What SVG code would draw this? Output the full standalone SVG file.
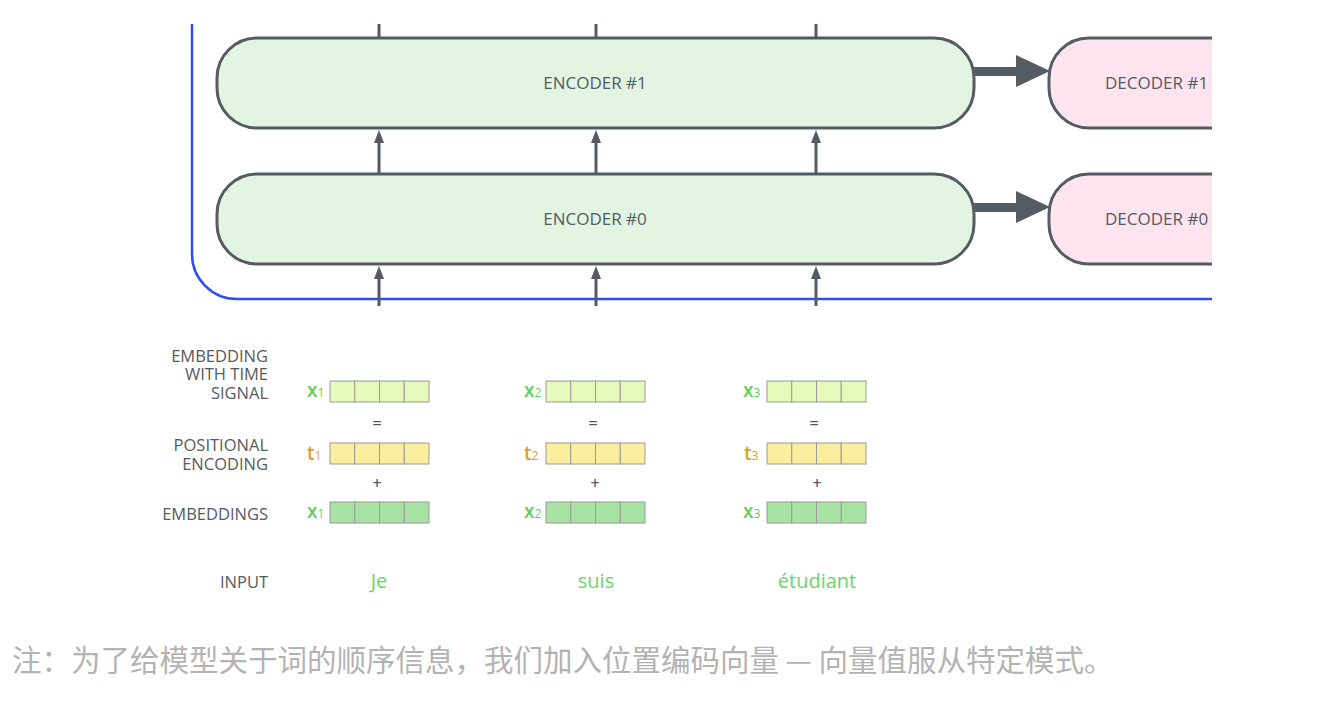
<svg xmlns="http://www.w3.org/2000/svg" width="1336" height="714" viewBox="0 0 1336 714">
<style>
.enc{fill:#e2f5e3;stroke:#555b62;stroke-width:3}
.dec{fill:#fde4ee;stroke:#555b62;stroke-width:3}
.lbl{font-family:"Open Sans","Liberation Sans",sans-serif;font-size:17px;font-weight:500;fill:#555b62}
.side{font-family:"Open Sans","Liberation Sans",sans-serif;font-size:16.5px;font-weight:500;fill:#555b62;text-anchor:end}
.op{font-family:"Open Sans","Liberation Sans",sans-serif;font-size:16px;font-weight:600;fill:#555b62;text-anchor:middle}
.word{font-family:"Open Sans","Liberation Sans",sans-serif;font-size:20px;fill:#6bd468;text-anchor:middle}
.xv{font-family:"Open Sans","Liberation Sans",sans-serif;font-size:19px;font-weight:600;fill:#62cf5c}
.tv{font-family:"Open Sans","Liberation Sans",sans-serif;font-size:19px;font-weight:600;fill:#d6a32c}
.sub{font-size:12px;font-weight:normal}
.cell{stroke:#9a9a9a;stroke-width:1}
.c1{fill:#e5f9bb}.c2{fill:#fcee9f}.c3{fill:#a7e3a3}
.ln{stroke:#555b62;stroke-width:3;fill:none}
.ah{fill:#555b62}
.cap{font-family:"Noto Sans CJK SC","Noto Sans",sans-serif;font-size:29.5px;fill:#b3b3b3}
</style>
<defs>
<clipPath id="clip"><rect x="0" y="0" width="1212" height="714"/></clipPath>
<g id="vec">
<rect class="cell" x="0" y="0" width="24.75" height="21"/>
<rect class="cell" x="24.75" y="0" width="24.75" height="21"/>
<rect class="cell" x="49.5" y="0" width="24.75" height="21"/>
<rect class="cell" x="74.25" y="0" width="24.75" height="21"/>
</g>
</defs>

<g id="container" clip-path="url(#clip)">
<path d="M192,24 V254 A45,45 0 0 0 237,299 H1240" fill="none" stroke="#2d4ef5" stroke-width="2.5"/>
</g>

<g id="connectors" clip-path="url(#clip)">
<line class="ln" x1="379" y1="24" x2="379" y2="38"/>
<line class="ln" x1="596" y1="24" x2="596" y2="38"/>
<line class="ln" x1="816" y1="24" x2="816" y2="38"/>
<line class="ln" x1="379" y1="174" x2="379" y2="142"/>
<polygon class="ah" points="379,130 374,143 384,143"/>
<line class="ln" x1="596" y1="174" x2="596" y2="142"/>
<polygon class="ah" points="596,130 591,143 601,143"/>
<line class="ln" x1="816" y1="174" x2="816" y2="142"/>
<polygon class="ah" points="816,130 811,143 821,143"/>
<line class="ln" x1="379" y1="306" x2="379" y2="278"/>
<polygon class="ah" points="379,266 374,279 384,279"/>
<line class="ln" x1="596" y1="306" x2="596" y2="278"/>
<polygon class="ah" points="596,266 591,279 601,279"/>
<line class="ln" x1="816" y1="306" x2="816" y2="278"/>
<polygon class="ah" points="816,266 811,279 821,279"/>
<polygon class="ah" points="974,67 1016,67 1016,55 1050,71 1016,87 1016,76 974,76"/>
<polygon class="ah" points="974,203 1016,203 1016,191 1050,207 1016,223 1016,212 974,212"/>
</g>

<g id="encoder1">
<rect class="enc" x="217" y="38" width="757" height="90" rx="40" ry="40"/>
<text class="lbl" x="595" y="89" text-anchor="middle">ENCODER #1</text>
</g>
<g id="encoder0">
<rect class="enc" x="217" y="174" width="757" height="90" rx="40" ry="40"/>
<text class="lbl" x="595" y="225" text-anchor="middle">ENCODER #0</text>
</g>
<g id="decoder1" clip-path="url(#clip)">
<rect class="dec" x="1049" y="38" width="250" height="90" rx="40" ry="40"/>
<text class="lbl" x="1105" y="89">DECODER #1</text>
</g>
<g id="decoder0" clip-path="url(#clip)">
<rect class="dec" x="1049" y="174" width="250" height="90" rx="40" ry="40"/>
<text class="lbl" x="1105" y="225">DECODER #0</text>
</g>

<g id="labels">
<text class="side" x="268" y="362">EMBEDDING</text>
<text class="side" x="268" y="380">WITH TIME</text>
<text class="side" x="268" y="399">SIGNAL</text>
<text class="side" x="268" y="451">POSITIONAL</text>
<text class="side" x="268" y="470">ENCODING</text>
<text class="side" x="268" y="520">EMBEDDINGS</text>
<text class="side" x="268" y="588">INPUT</text>
</g>

<g id="col1">
<use href="#vec" x="330" y="381" class="c1"/>
<use href="#vec" x="330" y="443" class="c2"/>
<use href="#vec" x="330" y="502" class="c3"/>
<text class="xv" x="307" y="397">x<tspan class="sub">1</tspan></text>
<text class="tv" x="307" y="460">t<tspan class="sub">1</tspan></text>
<text class="xv" x="307" y="518">x<tspan class="sub">1</tspan></text>
<text class="op" x="377" y="429">=</text>
<text class="op" x="377" y="489">+</text>
<text class="word" x="379" y="588">Je</text>
</g>
<g id="col2">
<use href="#vec" x="546" y="381" class="c1"/>
<use href="#vec" x="546" y="443" class="c2"/>
<use href="#vec" x="546" y="502" class="c3"/>
<text class="xv" x="524" y="397">x<tspan class="sub">2</tspan></text>
<text class="tv" x="524" y="460">t<tspan class="sub">2</tspan></text>
<text class="xv" x="524" y="518">x<tspan class="sub">2</tspan></text>
<text class="op" x="593" y="429">=</text>
<text class="op" x="595" y="489">+</text>
<text class="word" x="596" y="588">suis</text>
</g>
<g id="col3">
<use href="#vec" x="767" y="381" class="c1"/>
<use href="#vec" x="767" y="443" class="c2"/>
<use href="#vec" x="767" y="502" class="c3"/>
<text class="xv" x="743" y="397">x<tspan class="sub">3</tspan></text>
<text class="tv" x="744" y="460">t<tspan class="sub">3</tspan></text>
<text class="xv" x="743" y="518">x<tspan class="sub">3</tspan></text>
<text class="op" x="814" y="429">=</text>
<text class="op" x="817" y="489">+</text>
<text class="word" x="817" y="588">étudiant</text>
</g>

<g id="caption">
<text class="cap" x="12" y="671">注：为了给模型关于词的顺序信息，我们加入位置编码向量 — 向量值服从特定模式。</text>
</g>
</svg>
